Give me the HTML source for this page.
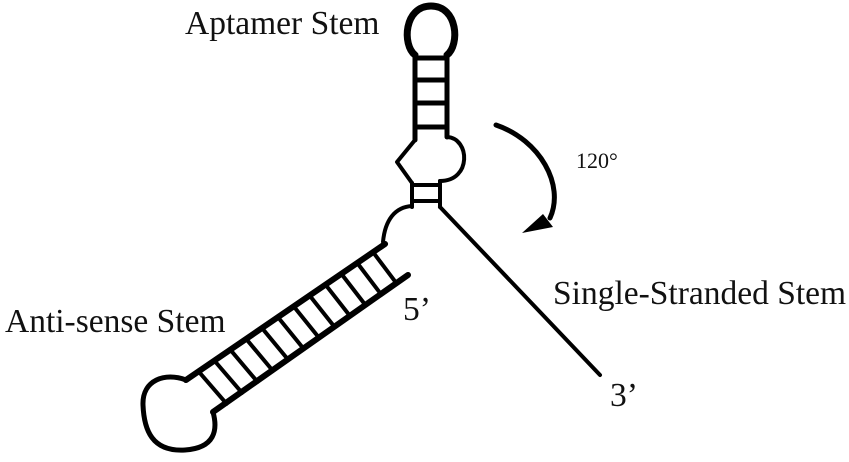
<!DOCTYPE html>
<html><head><meta charset="utf-8"><style>
html,body{margin:0;padding:0;background:#fff;}
svg{display:block}
text{font-family:"Liberation Serif",serif;fill:#111}
</style></head><body>
<svg width="849" height="462" viewBox="0 0 849 462" xmlns="http://www.w3.org/2000/svg">
<g fill="none" stroke="#000" stroke-linejoin="round" stroke-linecap="round">
<path d="M415,55 C402,45 404,6 431,6 C458,6 460,45 447,55" stroke-width="7"/>
<line x1="415" y1="55" x2="415" y2="140" stroke-width="5"/>
<line x1="447" y1="55" x2="447" y2="137" stroke-width="5"/>
<g stroke-width="5">
<line x1="415" y1="58" x2="447" y2="58"/>
<line x1="415" y1="80" x2="447" y2="80"/>
<line x1="415" y1="103" x2="447" y2="103"/>
<line x1="415" y1="127" x2="447" y2="127"/>
</g>
<path d="M415,140 L397,162 L412,183" stroke-width="4"/>
<path d="M447,137 C470,138 472,181 440,181" stroke-width="4"/>
<line x1="412" y1="183" x2="412" y2="207" stroke-width="4"/>
<line x1="440" y1="181" x2="440" y2="207" stroke-width="4"/>
<line x1="412" y1="185" x2="440" y2="185" stroke-width="4"/>
<line x1="412" y1="201" x2="440" y2="201" stroke-width="4"/>
<path d="M412,206 C395,207 385,220 383,242 L386,244" stroke-width="4"/>
<line x1="440" y1="207" x2="600" y2="375" stroke-width="4"/>
<line x1="385" y1="244" x2="186" y2="380" stroke-width="6"/>
<line x1="408" y1="275" x2="213" y2="412" stroke-width="6"/>
<g stroke-width="4">
<line x1="373.1" y1="252.2" x2="396.4" y2="283.2"/>
<line x1="357.3" y1="263" x2="381" y2="294.2"/>
<line x1="341.4" y1="273.9" x2="365.5" y2="305.1"/>
<line x1="325.6" y1="284.8" x2="350.1" y2="316.1"/>
<line x1="309.8" y1="295.7" x2="334.7" y2="327.1"/>
<line x1="293.9" y1="306.6" x2="319.2" y2="338"/>
<line x1="278.1" y1="317.4" x2="303.8" y2="349"/>
<line x1="262.2" y1="328.3" x2="288.3" y2="359.9"/>
<line x1="246.4" y1="339.2" x2="272.9" y2="370.9"/>
<line x1="230.6" y1="350.1" x2="257.5" y2="381.9"/>
<line x1="214.7" y1="361" x2="242" y2="392.8"/>
<line x1="198.9" y1="371.8" x2="226.6" y2="403.8"/>
</g>
<path d="M186,380 C165,372 142,380 143,405 C144,430 152,452 185,450 C215,448 218,430 213,412" stroke-width="5"/>
<path d="M496,125 C540,140 565,185 550,218" stroke-width="5"/>
</g>
<polygon points="522,233 543,214 553,227" fill="#000"/>
<text x="185" y="34" font-size="33.5">Aptamer Stem</text>
<text x="576" y="168" font-size="22">120°</text>
<text x="553" y="304" font-size="33.5">Single-Stranded Stem</text>
<text x="5" y="332" font-size="33.5">Anti-sense Stem</text>
<text x="403" y="320" font-size="33.5">5’</text>
<text x="610" y="406" font-size="33.5">3’</text>
</svg>
</body></html>
